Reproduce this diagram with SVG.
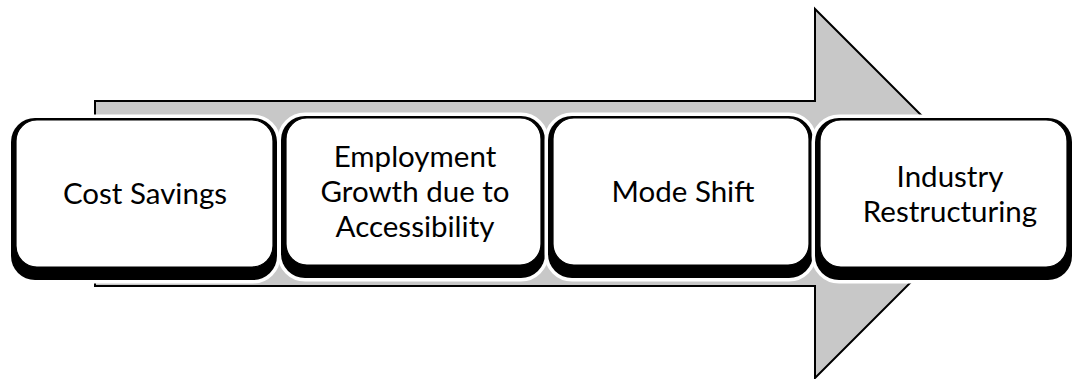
<svg xmlns="http://www.w3.org/2000/svg" width="1075" height="379" viewBox="0 0 1075 379">
<style>
.arrow{fill:#c8c8c8;stroke:#000;stroke-width:2;stroke-linejoin:miter}
.halo{fill:#fff;stroke:#fff;stroke-width:7}
.shadow{fill:#000}
.face{fill:#fff;stroke:#000;stroke-width:1.2}
.lbl{font-family:Lato,"Open Sans","Liberation Sans",sans-serif;font-size:29.5px;fill:#000;text-anchor:middle}
</style>
<rect width="1075" height="379" fill="#fff"/>
<g id="connectors">
<path class="arrow" d="M95,101 H815 V9 L999.5,193.5 L815,378 V286 H95 Z"/>
</g>
<g id="node-cost-savings">
<rect class="halo" x="11" y="118" width="266" height="162" rx="24"/>
<rect class="shadow" x="11" y="118" width="266" height="162" rx="24"/>
<rect class="face" x="16" y="120" width="257" height="147" rx="21"/>
<text class="lbl" x="145" y="204">Cost Savings</text>
</g>
<g id="node-employment">
<rect class="halo" x="281" y="116" width="264" height="162" rx="24"/>
<rect class="shadow" x="281" y="116" width="264" height="162" rx="24"/>
<rect class="face" x="286" y="118" width="255" height="147" rx="21"/>
<text class="lbl" x="415" y="166.5">Employment</text>
<text class="lbl" x="415" y="201.5">Growth due to</text>
<text class="lbl" x="415" y="236.5">Accessibility</text>
</g>
<g id="node-mode-shift">
<rect class="halo" x="548" y="116" width="265" height="162" rx="24"/>
<rect class="shadow" x="548" y="116" width="265" height="162" rx="24"/>
<rect class="face" x="553" y="118" width="256" height="147" rx="21"/>
<text class="lbl" x="683" y="201.5">Mode Shift</text>
</g>
<g id="node-industry">
<rect class="halo" x="815" y="118" width="257" height="162" rx="24"/>
<rect class="shadow" x="815" y="118" width="257" height="162" rx="24"/>
<rect class="face" x="820" y="120" width="247" height="147" rx="21"/>
<text class="lbl" x="950" y="186.5">Industry</text>
<text class="lbl" x="950" y="221.5">Restructuring</text>
</g>
</svg>
